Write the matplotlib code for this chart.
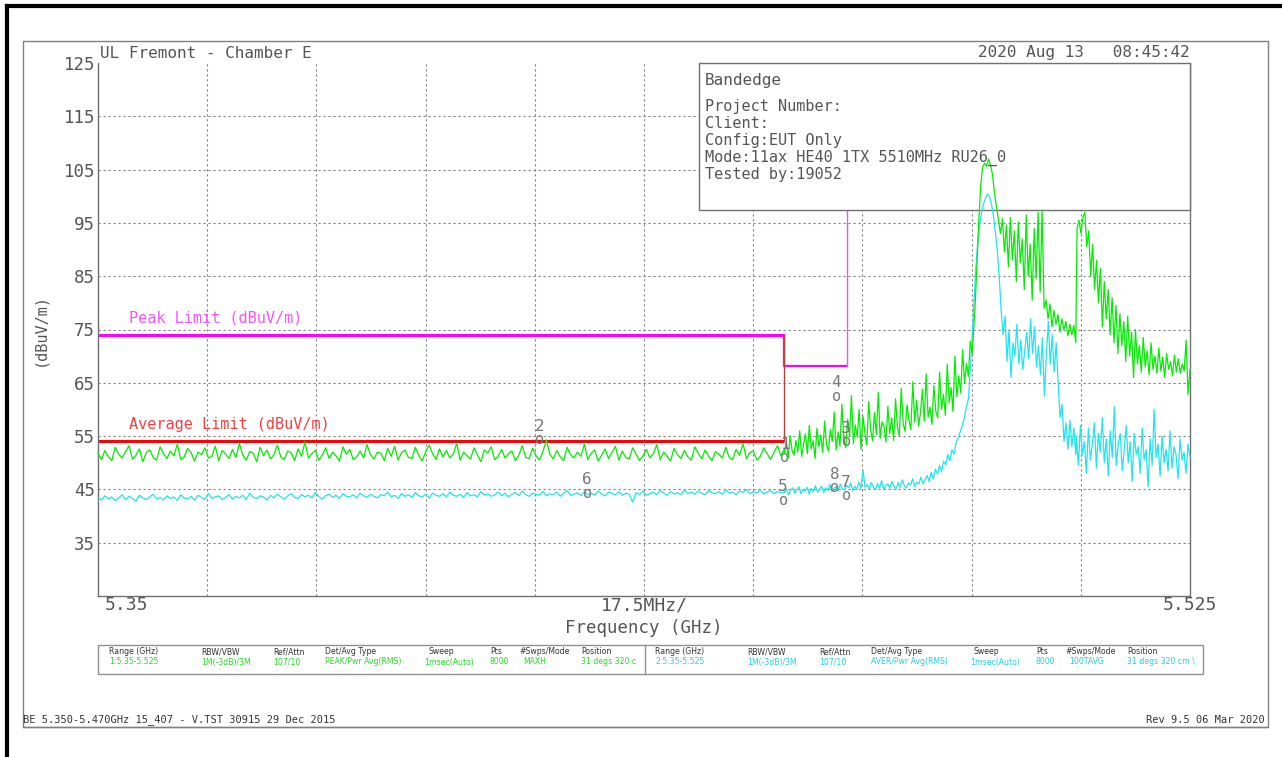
import numpy as np
import matplotlib
matplotlib.use("Agg")
import matplotlib.pyplot as plt
from matplotlib.patches import Rectangle
from matplotlib.lines import Line2D

# ---------------- data ----------------
f_start, f_stop = 5.35, 5.525
x_tick_labels = ["5.35", "17.5MHz/", "5.525"]
y_tick_values = [35, 45, 55, 65, 75, 85, 95, 105, 115, 125]

# peak (MAXH) trace, green, in segments
green_seg1_range = (5.35, 5.46)
green_seg1 = [51.8, 50.6, 52.3, 51.1, 50.4, 52.9, 51.6, 50.9, 52.1, 53.2, 50.7, 51.4, 52.6, 50.2, 51.9, 52.4, 51.0, 50.5, 53.0, 51.7,
              50.8, 52.2, 51.3, 53.5, 50.6, 51.1, 52.7, 51.9, 50.3, 52.0, 51.5, 52.8, 50.9, 51.2, 53.1, 50.4, 52.3, 51.6, 50.8, 52.5,
              51.0, 53.6, 51.4, 50.5, 52.1, 51.8, 50.2, 52.9, 51.3, 52.4, 50.7, 51.5, 53.3, 51.1, 50.6, 52.2, 51.9, 50.4, 52.6, 51.2,
              53.9, 50.9, 51.7, 52.3, 50.5, 51.4, 52.8, 50.8, 52.0, 51.3, 50.3, 53.0, 51.6, 52.5, 50.6, 51.1, 52.2, 50.9, 53.4, 51.5,
              50.7, 52.0, 51.8, 50.4, 52.7, 51.2, 53.1, 50.5, 51.9, 52.4, 51.0, 50.8, 52.9, 51.4, 50.3, 52.1, 53.3, 51.7, 50.6, 52.6,
              51.1, 52.3, 50.9, 51.6, 53.7, 50.5, 52.0, 51.3, 50.7, 52.8, 51.5, 50.2, 52.4, 51.8, 53.0, 50.6, 51.2, 52.5, 50.9, 51.7,
              52.2, 50.4, 51.4, 53.2, 51.0, 50.8, 52.7, 51.3, 50.5, 52.1, 54.3, 51.6, 50.7, 52.3, 51.1, 50.4, 52.9, 51.5, 50.9, 52.0,
              51.2, 53.5, 50.6, 51.8, 52.4, 50.3, 51.4, 52.6, 50.8, 51.9, 53.1, 50.5, 52.2, 51.0, 50.7, 52.8, 51.6, 50.4, 51.3, 52.5,
              50.9, 51.7, 53.4, 50.6, 52.0, 51.2, 50.3, 52.7, 51.5, 50.8, 52.3, 51.1, 50.5, 53.0, 51.8, 50.7, 52.4, 51.3, 50.4, 52.1,
              51.6, 50.9, 52.9, 51.0, 50.6, 52.5, 51.4, 53.6, 50.8, 51.9, 52.2, 50.5, 51.2, 52.8, 51.7, 50.6, 52.0, 53.2, 51.3, 52.6]
green_seg2_range = (5.46, 5.4904)
green_seg2 = [51.8, 53.9, 50.9, 55.1, 52.3, 51.4, 54.2, 52.0, 56.0, 51.2, 53.5, 55.4, 51.7, 57.0, 52.6, 54.1, 50.8, 56.5, 53.0, 55.2,
              51.9, 57.8, 53.4, 52.2, 56.3, 54.0, 59.5, 52.4, 55.8, 53.1, 61.0, 54.4, 52.8, 58.2, 55.0, 62.6, 53.6, 57.1, 54.8, 60.0,
              52.5, 58.8, 55.6, 53.3, 61.5, 56.2, 54.1, 59.4, 55.3, 63.2, 54.6, 57.7, 56.8, 53.9, 60.6, 55.5, 58.4, 54.2, 62.0, 56.7,
              55.1, 64.0, 57.3, 55.9, 60.9, 58.0, 56.2, 65.2, 57.6, 61.7, 56.9, 59.3, 63.8, 57.8, 66.7, 58.6, 60.4, 57.2, 64.5, 59.7,
              58.4, 67.0, 60.0, 62.8, 58.9, 68.5, 61.3, 64.1, 59.6, 70.0, 62.4, 66.3, 63.1, 71.2, 65.0, 68.6, 66.2, 72.8, 70.4, 76.5]
green_seg3_range = (5.4905, 5.5067)
green_seg3 = [78.0, 86.0, 95.0, 102.0, 105.5, 106.2, 105.6, 107.0, 105.8, 104.0, 100.5, 98.0, 95.5, 93.0, 95.8, 89.5, 94.6, 86.8,
              96.0, 88.0, 93.5, 84.0, 95.2, 87.5, 92.0, 82.5, 96.5, 85.0, 91.0, 80.5, 94.0, 84.5, 97.0, 82.0, 97.4, 79.0, 80.5,
              77.0, 79.8, 75.5, 78.6, 76.0, 77.8, 74.5, 77.0, 75.0, 76.5, 73.8, 76.0, 74.0, 75.8, 72.5]
green_seg4_range = (5.5069, 5.525)
green_seg4 = [94.0, 95.5, 93.0, 96.0, 97.0, 90.5, 93.5, 85.0, 91.0, 82.5, 88.0, 80.0, 86.5, 75.5, 84.0, 77.0, 82.5, 74.0, 81.0, 72.5,
              79.5, 70.5, 78.0, 72.0, 76.5, 69.0, 77.5, 70.0, 74.5, 66.0, 75.0, 68.5, 72.0, 67.0, 73.5, 68.0, 71.0, 66.5, 72.5, 67.5,
              70.0, 66.8, 71.5, 67.2, 69.8, 66.0, 70.5, 67.5, 69.0, 66.4, 70.2, 67.0, 69.5, 66.8, 68.5, 67.2, 73.0, 62.8, 67.5]

# average (100TAVG) trace, cyan, in segments
cyan_seg1_range = (5.35, 5.46)
cyan_seg1 = [43.5, 43.0, 43.8, 43.2, 43.6, 42.9, 43.4, 44.0, 43.1, 43.7, 43.3, 42.8, 43.9, 43.4, 43.1, 43.6, 44.1, 43.2, 43.5, 43.0,
             43.8, 43.3, 43.6, 42.9, 44.0, 43.4, 43.2, 43.7, 43.0, 43.9, 43.5, 43.1, 44.2, 43.3, 43.6, 43.8, 43.1, 43.5, 44.0, 43.2,
             43.7, 43.4, 43.9, 43.1, 44.3, 43.5, 43.3, 43.8, 43.6, 43.0, 43.9, 43.4, 44.1, 43.6, 43.2, 43.8, 44.2, 43.5, 43.3, 44.0,
             43.6, 43.9, 43.4, 44.4, 43.7, 43.2, 43.8, 44.1, 43.5, 43.9, 43.3, 44.2, 43.7, 43.6, 44.0, 43.4, 44.3, 43.8, 43.5, 44.1,
             43.7, 43.4, 44.0, 43.8, 44.5, 43.6, 43.9, 43.3, 44.2, 43.7, 44.0, 43.5, 44.4, 43.8, 43.6, 44.1, 43.4, 44.3, 43.9, 43.7,
             44.2, 43.6, 44.5, 43.9, 43.7, 44.1, 43.5, 44.4, 43.8, 44.0, 43.6, 44.6, 43.9, 44.2, 43.7, 44.0, 44.5, 43.8, 44.3, 43.6,
             44.1, 44.4, 43.8, 44.7, 44.0, 43.7, 44.3, 44.1, 43.9, 44.6, 43.8, 44.2, 44.0, 44.5, 43.7, 44.3, 44.8, 43.9, 44.1, 44.4,
             43.8, 44.6, 44.0, 44.3, 43.9, 44.7, 44.1, 43.8, 44.5, 44.2, 44.0, 44.6, 43.9, 44.3, 44.1, 42.6, 44.4, 44.0, 44.7, 43.9,
             44.2, 44.5, 44.0, 44.8, 44.3, 43.9, 44.6, 44.1, 44.4, 44.0, 44.9, 44.2, 44.5, 44.1, 44.7, 44.3, 44.0, 44.8, 44.4, 44.2,
             44.6, 44.1, 44.9, 44.3, 44.5, 44.0, 44.7, 44.4, 45.0, 44.2, 44.6, 44.3, 44.9, 44.1, 44.5, 44.8, 44.2, 44.6, 44.4, 44.5]
cyan_seg2_range = (5.46, 5.4895)
cyan_seg2 = [44.4, 45.1, 44.0, 44.8, 45.3, 44.3, 44.9, 45.5, 44.2, 45.0, 44.7, 45.4, 44.1, 45.2, 44.6, 45.7, 44.5, 45.0, 45.6, 44.4,
             45.3, 44.8, 45.9, 44.6, 45.2, 45.5, 44.7, 46.0, 45.1, 44.9, 45.8, 45.3, 46.2, 44.8, 45.6, 45.0, 46.4, 45.2, 48.6, 45.4,
             45.9, 45.1, 46.3, 45.5, 44.9, 46.1, 45.3, 46.6, 45.0, 45.8, 46.0, 45.2, 46.5, 45.6, 45.1, 46.3, 45.4, 46.8, 45.7, 45.3,
             46.2, 45.8, 47.0, 45.5, 46.4, 46.0, 47.3, 46.1, 46.8, 47.6, 46.5, 48.2, 47.0, 48.8, 47.9, 49.5, 48.4, 50.3, 49.6, 51.5,
             50.4, 52.4, 51.6, 53.8, 54.6, 55.8, 57.0, 58.4, 60.5, 62.0]
cyan_seg3_range = (5.4897, 5.5067)
cyan_seg3 = [66.0, 72.0, 79.0, 86.0, 91.0, 94.5, 97.0, 98.5, 99.6, 100.4, 100.0, 98.6, 96.5, 93.5, 90.0, 85.0, 78.5, 74.0, 77.5,
             69.0, 75.0, 66.0, 72.5, 70.0, 76.0, 68.5, 73.0, 67.5, 71.0, 74.5, 69.5, 77.0, 70.5, 75.5, 68.0, 72.0, 66.5, 73.5, 62.5,
             70.0, 76.5, 68.5, 74.0, 67.0, 72.5, 65.0, 58.5, 61.0, 54.0, 57.5, 52.5, 58.0, 53.0, 56.5, 51.5]
cyan_seg4_range = (5.5068, 5.525)
cyan_seg4 = [55.0, 49.5, 57.0, 51.5, 54.0, 48.0, 56.5, 50.5, 53.5, 57.5, 49.0, 55.5, 52.0, 58.5, 50.0, 54.5, 47.5, 56.0, 51.0, 60.5,
             49.5, 53.5, 55.5, 48.5, 52.5, 57.0, 50.0, 54.0, 46.5, 55.5, 51.5, 53.0, 48.0, 56.5, 50.5, 52.5, 45.5, 54.5, 49.5, 60.0,
             51.0, 53.5, 47.5, 55.0, 50.0, 52.5, 48.5, 56.0, 49.0, 53.0, 51.5, 47.0, 54.5, 50.5, 52.0, 48.0, 53.5, 51.0]

# limits
peak_limit_freq = [5.35, 5.46, 5.46, 5.47, 5.47]
peak_limit_level = [74.0, 74.0, 68.2, 68.2, 125.0]
avg_limit_freq = [5.35, 5.46]
avg_limit_level = [54.0, 54.0]
edge_freq = 5.46
edge_level = (54.0, 74.0)

# markers
marker_labels = ["1", "2", "3", "4", "5", "6", "7", "8"]
marker_freq = [5.4601, 5.4208, 5.4699, 5.4683, 5.4598, 5.4284, 5.4699, 5.4680]
marker_level = [50.9, 54.3, 54.0, 62.5, 43.0, 44.3, 43.9, 45.3]

# text
title_left = "UL Fremont - Chamber E"
title_right = "2020 Aug 13   08:45:42"
info_lines = ["Project Number:", "Client:", "Config:EUT Only",
              "Mode:11ax HE40 1TX 5510MHz RU26_0", "Tested by:19052"]
info_title = "Bandedge"
table_headers = ["Range (GHz)", "RBW/VBW", "Ref/Attn", "Det/Avg Type", "Sweep", "Pts", "#Swps/Mode", "Position"]
table_row1 = ["1:5.35-5.525", "1M(-3dB)/3M", "107/10", "PEAK/Pwr Avg(RMS)", "1msec(Auto)", "8000", "MAXH", "31 degs 320 c"]
table_row2 = ["2:5.35-5.525", "1M(-3dB)/3M", "107/10", "AVER/Pwr Avg(RMS)", "1msec(Auto)", "8000", "100TAVG", "31 degs 320 cm \\"]
footer_left = "BE 5.350-5.470GHz 15_407 - V.TST 30915 29 Dec 2015"
footer_right = "Rev 9.5 06 Mar 2020"

# ---------------- figure ----------------
W, H = 1282, 757
fig = plt.figure(figsize=(W / 100, H / 100), dpi=100)
fig.patch.set_facecolor("white")
MONO = "DejaVu Sans Mono"
TXT = "#555555"


def fx(x):
    return x / W


def fy(y):
    return 1 - y / H


# outer frames
fig.add_artist(Line2D([fx(7), fx(7)], [fy(6), fy(757)], color="black", lw=3))
fig.add_artist(Line2D([fx(7), fx(1282)], [fy(6), fy(6)], color="black", lw=3))
fig.add_artist(Rectangle((fx(23), fy(727)), fx(1268) - fx(23), fy(41) - fy(727),
                         fill=False, edgecolor="#808080", lw=1))

ax_l, ax_r, ax_t, ax_b = 98, 1190, 63, 596
ax = fig.add_axes([fx(ax_l), fy(ax_b), fx(ax_r - ax_l), fy(ax_t) - fy(ax_b)])
ax.set_xlim(f_start, f_stop)
ax.set_ylim(25, 125)
ax.set_facecolor("none")
for s in ["left", "bottom", "right"]:
    ax.spines[s].set_color("#707070")
    ax.spines[s].set_linewidth(1)
ax.spines["top"].set_visible(False)

# grid
for v in y_tick_values[:-1]:
    ax.axhline(v, color="#808080", lw=0.8, ls=(0, (2, 2.5)), zorder=1)
for fv in np.linspace(f_start, f_stop, 11)[1:-1]:
    ax.axvline(fv, color="#808080", lw=0.8, ls=(0, (2, 2.5)), zorder=1)

ax.set_xticks([])
ax.set_yticks(y_tick_values)
ax.set_yticklabels([str(v) for v in y_tick_values], fontsize=12.5, color=TXT, family=MONO)
ax.tick_params(axis="y", length=0, pad=2)

# x labels
ax.text(0.006, -0.017, x_tick_labels[0], transform=ax.transAxes, ha="left", va="center",
        fontsize=13, color=TXT, family=MONO)
ax.text(0.5, -0.017, x_tick_labels[1], transform=ax.transAxes, ha="center", va="center",
        fontsize=13, color=TXT, family=MONO)
ax.text(1.0, -0.017, x_tick_labels[2], transform=ax.transAxes, ha="center", va="center",
        fontsize=13, color=TXT, family=MONO)
ax.text(0.5, -0.06, "Frequency (GHz)", transform=ax.transAxes, ha="center", va="center",
        fontsize=12.5, color=TXT, family=MONO)
fig.text(fx(40), fy(330), "(dBuV/m)", rotation=90, ha="center", va="center",
         fontsize=11, color=TXT, family=MONO)

# title texts
fig.text(fx(100), fy(53), title_left, ha="left", va="center", fontsize=11.5, color=TXT, family=MONO)
fig.text(fx(1190), fy(53), title_right, ha="right", va="center", fontsize=11.5, color=TXT, family=MONO)

# limits
ax.plot(peak_limit_freq[:2], peak_limit_level[:2], color="#ff00ff", lw=2.2, zorder=2, solid_capstyle="butt")
ax.plot(peak_limit_freq[1:4], peak_limit_level[1:4], color="#ff00ff", lw=1.6, zorder=2)
ax.plot(peak_limit_freq[3:], peak_limit_level[3:], color="#e060e0", lw=1.0, zorder=2)
ax.plot(avg_limit_freq, avg_limit_level, color="#ff0000", lw=2.2, zorder=2, solid_capstyle="butt")
ax.plot([edge_freq, edge_freq], list(edge_level), color="#c03c3c", lw=1.0, zorder=2)
ax.text(5.3549, 77.2, "Peak Limit (dBuV/m)", color="#ff50ff", fontsize=11, family=MONO, va="center", ha="left")
ax.text(5.3549, 57.1, "Average Limit (dBuV/m)", color="#ff3c3c", fontsize=11, family=MONO, va="center", ha="left")

# info box
ax.add_patch(Rectangle((0.5504, 0.7242), 0.4496, 0.2758, transform=ax.transAxes, facecolor="white",
                       edgecolor="#707070", lw=1, zorder=3, clip_on=False))
fig.text(fx(705), fy(81), info_title, ha="left", va="center", fontsize=11.5, color=TXT, family=MONO, zorder=6)
for i, line in enumerate(info_lines):
    fig.text(fx(705), fy(107 + i * 16.8), line, ha="left", va="center", fontsize=11,
             color=TXT, family=MONO, zorder=6)


# traces
def seg_x(rng, vals):
    return np.linspace(rng[0], rng[1], len(vals))


def draw_trace(segs, color, z):
    xs = np.concatenate([seg_x(r, v) for r, v in segs])
    ys = np.concatenate([np.asarray(v, float) for r, v in segs])
    ax.plot(xs, ys, color=color, lw=0.9, zorder=z, clip_on=False)


draw_trace([(cyan_seg1_range, cyan_seg1), (cyan_seg2_range, cyan_seg2),
            (cyan_seg3_range, cyan_seg3), (cyan_seg4_range, cyan_seg4)], "#1ee6f0", 4)
draw_trace([(green_seg1_range, green_seg1), (green_seg2_range, green_seg2),
            (green_seg3_range, green_seg3), (green_seg4_range, green_seg4)], "#00ee00", 5)

# markers
for lab, mf, ml in zip(marker_labels, marker_freq, marker_level):
    ax.text(mf, ml, "o", ha="center", va="center", fontsize=11, color="#777777", family=MONO, zorder=7)
    ax.annotate(lab, (mf, ml), xytext=(0, 9.5), textcoords="offset points", ha="center", va="center",
                fontsize=11.5, color="#777777", family=MONO, zorder=7)

# bottom table
tbl_l, tbl_r, tbl_t, tbl_b, tbl_mid = 98, 1203, 645, 674, 645
fig.add_artist(Rectangle((fx(tbl_l), fy(tbl_b)), fx(tbl_r - tbl_l), fy(tbl_t) - fy(tbl_b),
                         fill=False, edgecolor="#909090", lw=1))
fig.add_artist(Line2D([fx(tbl_mid), fx(tbl_mid)], [fy(tbl_b), fy(tbl_t)], color="#909090", lw=1))
col_offsets = [11, 103, 175, 227, 326, 392, 421, 483]
for base, row, col in [(98, table_row1, "#22dd22"), (644, table_row2, "#22d0e0")]:
    for off, hdr, val in zip(col_offsets, table_headers, row):
        hx = base + off + (4 if hdr == "Sweep" else 0)
        fig.text(fx(hx), fy(652), hdr, ha="left", va="center", fontsize=5.6, color="#333333")
        vx = base + off + (4 if hdr == "#Swps/Mode" else 0)
        fig.text(fx(vx), fy(662), val, ha="left", va="center", fontsize=5.6, color=col)

# footer
fig.add_artist(Line2D([fx(23), fx(1268)], [fy(727), fy(727)], color="#808080", lw=1))
fig.text(fx(23), fy(720), footer_left, ha="left", va="center", fontsize=7.5, color="#333333", family=MONO)
fig.text(fx(1265), fy(720), footer_right, ha="right", va="center", fontsize=7.5, color="#333333", family=MONO)

fig.savefig("out.png", dpi=100)
